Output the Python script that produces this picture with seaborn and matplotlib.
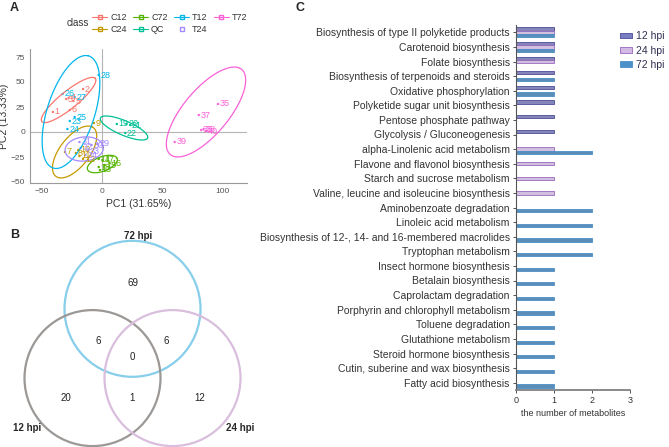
import numpy as np
import pandas as pd
import matplotlib
matplotlib.use('Agg')
import matplotlib.pyplot as plt
import seaborn as sns
from matplotlib.patches import Circle, Patch
from matplotlib.lines import Line2D

# ---------------- panel A: PCA scores ----------------
CLASSES = ['C12', 'C24', 'C72', 'QC', 'T12', 'T24', 'T72']
CLASS_COLORS = ['#F8766D', '#C49A00', '#53B400', '#00C094', '#00B6EB', '#A58AFF', '#FB61D7']

sample_ids = list(range(1, 41))
sample_class = (['C12'] * 6 + ['C24'] * 6 + ['C72'] * 6 + ['QC'] * 4
                + ['T12'] * 6 + ['T24'] * 6 + ['T72'] * 6)
pc1 = [-41, -16, -30, -28, -24, -27,
       -31, -22, -7, -20, -19, -16,
       -2, -3, 2, 6, 0, -3,
       12, 20, 23, 19,
       -27, -29, -23, -33, -23, -3,
       -4, -9, -19, -18, -12, -14,
       96, 82, 80, 84, 60, 86]
pc2 = [20, 43, 33, 34, 31, 22,
       -20, -21, 9, -18, -24, -27,
       -38, -27, -33, -31, -28, -35,
       8, 8, 7, -1,
       11, 3, 15, 38, 35, 57,
       -12, -13, -10, -16, -19, -23,
       28, 2, 17, 3, -10, 1]

# 95% ellipse per class: centre, semi-axes, angle (data units)
ell_cx = [-28, -23, 0, 18, -26, -15, 86]
ell_cy = [32, -20, -32, 4, 20, -17, 20]
ell_a = [31, 29, 13.5, 22, 58, 16, 52]
ell_b = [8, 13, 7, 7, 20, 12, 20]
ell_ang = [45, 60, 27, -28, 76, 10, 57]

# ---------------- panel B: Venn counts ----------------
venn_sets = ['72 hpi', '12 hpi', '24 hpi']
venn_colors = ['#87CEEB', '#9B9896', '#D9BEDD']
venn_regions = ['72', '12&72', '24&72', '12&24&72', '12', '12&24', '24']
venn_counts = [69, 6, 6, 0, 20, 1, 12]

# ---------------- panel C: enriched pathways ----------------
pathways = [
    'Biosynthesis of type II polyketide products',
    'Carotenoid biosynthesis',
    'Folate biosynthesis',
    'Biosynthesis of terpenoids and steroids',
    'Oxidative phosphorylation',
    'Polyketide sugar unit biosynthesis',
    'Pentose phosphate pathway',
    'Glycolysis / Gluconeogenesis',
    'alpha-Linolenic acid metabolism',
    'Flavone and flavonol biosynthesis',
    'Starch and sucrose metabolism',
    'Valine, leucine and isoleucine biosynthesis',
    'Aminobenzoate degradation',
    'Linoleic acid metabolism',
    'Biosynthesis of 12-, 14- and 16-membered macrolides',
    'Tryptophan metabolism',
    'Insect hormone biosynthesis',
    'Betalain biosynthesis',
    'Caprolactam degradation',
    'Porphyrin and chlorophyll metabolism',
    'Toluene degradation',
    'Glutathione metabolism',
    'Steroid hormone biosynthesis',
    'Cutin, suberine and wax biosynthesis',
    'Fatty acid biosynthesis',
]
n12 = [1, 1, 1, 1, 1, 1, 1, 1, 0, 0, 0, 0, 0, 0, 0, 0, 0, 0, 0, 0, 0, 0, 0, 0, 0]
n24 = [1, 1, 1, 0, 0, 0, 0, 0, 1, 1, 1, 1, 0, 0, 0, 0, 0, 0, 0, 0, 0, 0, 0, 0, 0]
n72 = [1, 1, 0, 1, 1, 0, 0, 0, 2, 0, 0, 0, 2, 2, 2, 2, 1, 1, 1, 1, 1, 1, 1, 1, 1]
times = ['12 hpi', '24 hpi', '72 hpi']
time_face = ['#7B7DC2', '#D3B9E6', '#4A90C9']
time_edge = ['#4A4C96', '#9A68BE', '#4A90C9']

sns.set_style('white')
plt.rcParams['font.family'] = ['Liberation Sans', 'DejaVu Sans']

W, H = 669, 447
fig = plt.figure(figsize=(W / 100, H / 100), dpi=100)


def px_axes(x0, y0, x1, y1):
    return fig.add_axes([x0 / W, 1 - y1 / H, (x1 - x0) / W, (y1 - y0) / H])


# ---- A ----
axA = px_axes(30, 49, 247, 183)
palette = dict(zip(CLASSES, CLASS_COLORS))
dfA = pd.DataFrame({'id': sample_ids, 'cls': sample_class, 'pc1': pc1, 'pc2': pc2})
axA.axhline(0, color='#b5b5b5', lw=0.8, zorder=0)
axA.axvline(0, color='#b5b5b5', lw=0.8, zorder=0)
sns.scatterplot(data=dfA, x='pc1', y='pc2', hue='cls', palette=palette,
                s=3, linewidth=0, legend=False, ax=axA)
for row in dfA.itertuples():
    axA.text(row.pc1 + 1.5, row.pc2, str(row.id), color=palette[row.cls],
             fontsize=6.5, va='center', ha='left')
t = np.linspace(0, 2 * np.pi, 200)
for cls, cx, cy, a, b, ang in zip(CLASSES, ell_cx, ell_cy, ell_a, ell_b, ell_ang):
    th = np.deg2rad(ang)
    ex = cx + a * np.cos(t) * np.cos(th) - b * np.sin(t) * np.sin(th)
    ey = cy + a * np.cos(t) * np.sin(th) + b * np.sin(t) * np.cos(th)
    axA.plot(ex, ey, color=palette[cls], lw=0.9)
axA.set_xlim(-60, 120)
axA.set_ylim(-51, 83)
axA.set_xticks([-50, 0, 50, 100])
axA.set_yticks([-50, -25, 0, 25, 50, 75])
axA.tick_params(labelsize=6, colors='#555555', length=2, width=0.6, pad=1.5)
axA.set_xlabel('PC1 (31.65%)', fontsize=7.5, color='#333333', labelpad=3)
axA.set_ylabel('PC2 (13.33%)', fontsize=7.5, color='#333333', labelpad=1)
for s in ['top', 'right']:
    axA.spines[s].set_visible(False)
for s in ['left', 'bottom']:
    axA.spines[s].set_color('#999999')
    axA.spines[s].set_linewidth(0.8)

handles = []
for cls in CLASSES:
    lw = 0 if cls == 'T24' else 0.8
    handles.append(Line2D([], [], color=palette[cls], marker='s', markersize=3,
                          markerfacecolor='none', lw=lw))
fig.legend(handles, CLASSES, loc='upper left', bbox_to_anchor=(84 / W, 1 - 5 / H),
           ncol=4, frameon=False, fontsize=6.5, handlelength=1.7,
           columnspacing=0.7, handletextpad=0.3, labelspacing=0.35,
           labelcolor='#333333')
fig.text(67 / W, 1 - 23 / H, 'class', fontsize=7, color='#333333', va='center')

# ---- B ----
axB = px_axes(0, 220, 280, 447)
axB.set_xlim(0, 280)
axB.set_ylim(447, 220)
axB.axis('off')
r = 68
d = 80
cx0, cy0 = 132.5, 355
centers = [(cx0, cy0 - d / np.sqrt(3)),
           (cx0 - d / 2, cy0 + d / (2 * np.sqrt(3))),
           (cx0 + d / 2, cy0 + d / (2 * np.sqrt(3)))]
for (x, y), col in zip(centers, venn_colors):
    axB.add_patch(Circle((x, y), r, fill=False, ec=col, lw=1.6))
region_xy = {'72': (cx0, cy0 - 72), '12&72': (cx0 - 34, cy0 - 14),
             '24&72': (cx0 + 34, cy0 - 14), '12&24&72': (cx0, cy0 + 2),
             '12': (cx0 - 67, cy0 + 43), '12&24': (cx0, cy0 + 43),
             '24': (cx0 + 67, cy0 + 43)}
for reg, cnt in zip(venn_regions, venn_counts):
    x, y = region_xy[reg]
    axB.text(x, y, str(cnt), ha='center', va='center', fontsize=7, color='#222222')
axB.text(138, 236, venn_sets[0], ha='center', va='center', fontsize=7, fontweight='bold')
axB.text(27, 428, venn_sets[1], ha='center', va='center', fontsize=7, fontweight='bold')
axB.text(240, 428, venn_sets[2], ha='center', va='center', fontsize=7, fontweight='bold')

# ---- C ----
axC = px_axes(516, 25, 630, 390)
dfC = pd.DataFrame({'pathway': pathways, '12 hpi': n12, '24 hpi': n24, '72 hpi': n72})
dfC = dfC.melt(id_vars='pathway', var_name='time', value_name='count')
sns.barplot(data=dfC, y='pathway', x='count', hue='time', hue_order=times,
            order=pathways, orient='h', palette=dict(zip(times, time_face)),
            width=0.66, legend=False, ax=axC)
for cont, ec in zip(axC.containers, time_edge):
    for bar in cont:
        if bar.get_width() > 0:
            bar.set_edgecolor(ec)
            bar.set_linewidth(0.6)
        else:
            bar.set_visible(False)
axC.set_xlim(0, 3)
axC.set_ylim(len(pathways) - 0.5, -0.5)
axC.set_xticks([0, 1, 2, 3])
axC.tick_params(axis='y', labelsize=7.5, colors='#333333', length=2.5, width=0.6,
                pad=2, left=True)
axC.tick_params(axis='x', labelsize=6.5, colors='#333333', length=2.5, width=0.6,
                pad=1.5, bottom=True)
axC.set_ylabel('')
axC.set_xlabel('the number of metabolites', fontsize=6.5, color='#333333', labelpad=3)
for s in ['top', 'right']:
    axC.spines[s].set_visible(False)
axC.spines['left'].set_color('#555555')
axC.spines['left'].set_linewidth(0.8)
axC.spines['bottom'].set_color('#808080')
axC.spines['bottom'].set_linewidth(1.3)

leg_handles = [Patch(facecolor=f, edgecolor=e, lw=0.6) for f, e in zip(time_face, time_edge)]
fig.legend(leg_handles, times, loc='upper left', bbox_to_anchor=(611 / W, 1 - 22 / H),
           frameon=False, fontsize=7.5, handlelength=1.1, handleheight=0.45,
           handletextpad=0.4, labelspacing=0.4, labelcolor='#2e2e50')

# panel letters
for lab, x, y in [('A', 10, 8), ('B', 10, 235), ('C', 295, 8)]:
    fig.text(x / W, 1 - y / H, lab, fontsize=9, fontweight='bold', va='center')

fig.savefig('out.png', dpi=100)
